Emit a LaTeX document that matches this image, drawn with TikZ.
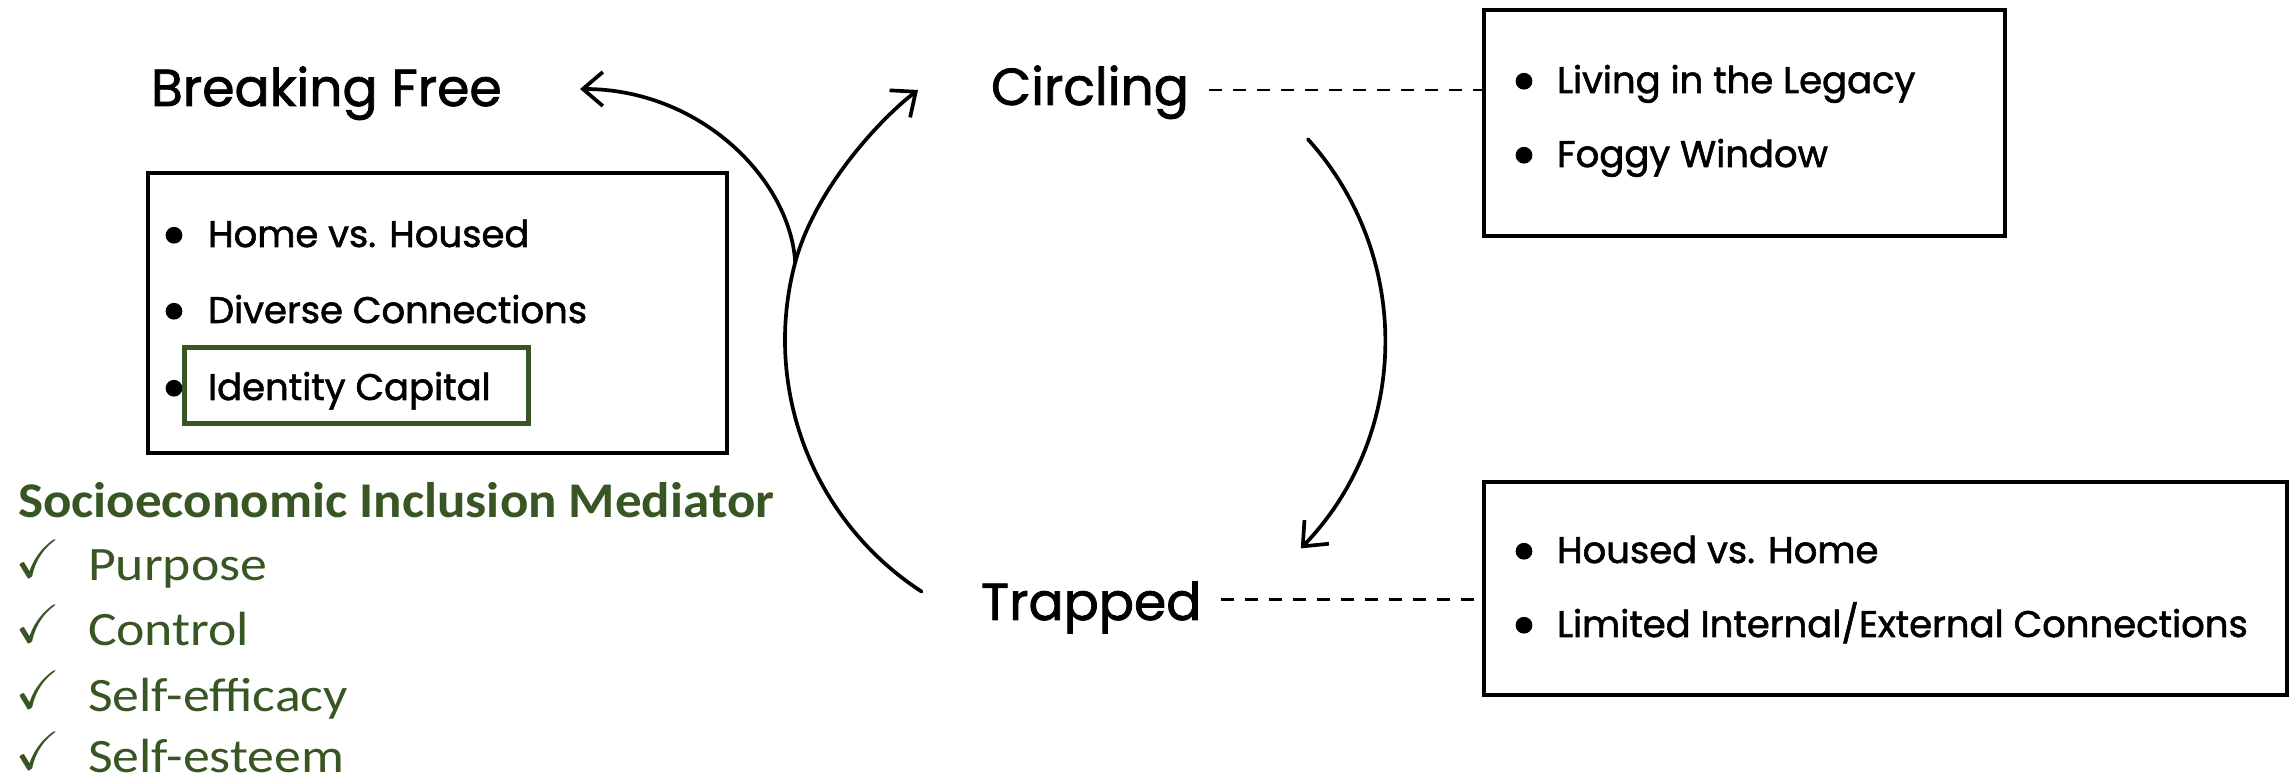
\documentclass[tikz,border=0pt]{standalone}
\usepackage{fontspec}
\usepackage{amssymb}
\usetikzlibrary{arrows.meta,calc}
\newfontfamily\headfont{Poppins}[FakeBold=1.5]
\newfontfamily\caltitle{Carlito}[FakeStretch=1.06]
\newfontfamily\calitem{Carlito}[FakeStretch=1.12]
\definecolor{leafgreen}{RGB}{55,86,35}

\begin{document}
\begin{tikzpicture}[x=1pt,y=1pt,
  every node/.style={inner sep=0pt, outer sep=0pt},
  stage/.style={font=\headfont\fontsize{52}{60}\selectfont, anchor=base west},
  item/.style={font=\headfont\fontsize{37}{44}\selectfont, anchor=base west},
  bul/.style={font=\headfont\fontsize{64}{70}\selectfont, yshift=-7pt},
  panel/.style={draw, line width=3.5pt},
  flow/.style={line width=3.7pt, line cap=round},
  tip/.style={-{Straight Barb[length=20pt,width=34pt]}},
  dashline/.style={line width=2.5pt, dash pattern=on 13pt off 11pt},
  gtitle/.style={font=\caltitle\bfseries\fontsize{50}{60}\selectfont, text=leafgreen, anchor=base west},
  gitem/.style={font=\calitem\fontsize{48}{58}\selectfont, text=leafgreen, anchor=base west},
  check/.style={font=\fontsize{54}{60}\selectfont, text=leafgreen, anchor=base west}
]
\useasboundingbox (0,0) rectangle (2293,779);

% stage labels
\node[stage] (bf) at (151,673) {Breaking Free};
\node[stage] (circ) at (991,674) {Circling};
\node[stage] (trap) at (981,159) {Trapped};

% panel beside Breaking Free
\node[panel, minimum width=579pt, minimum height=280pt] (bfbox) at (437.5,466) {};
\node[bul] (b1) at (174,544) {•};
\node[item] (t1) at (208,532) {Home vs. Housed};
\node[bul] (b2) at (174,468) {•};
\node[item] (t2) at (208,456) {Diverse Connections};
\node[bul] (b3) at (174,391) {•};
\node[item] (t3) at (208,379) {Identity Capital};
\node[draw=leafgreen, line width=5pt, minimum width=344pt, minimum height=76pt] (idbox) at (356,393) {};

% panel for Circling
\node[panel, minimum width=521pt, minimum height=226pt] (cbox) at (1744.5,656) {};
\node[bul] (b4) at (1524,698) {•};
\node[item] (t4) at (1557,686) {Living in the Legacy};
\node[bul] (b5) at (1524,624) {•};
\node[item] (t5) at (1557,612) {Foggy Window};

% panel for Trapped
\node[panel, minimum width=803pt, minimum height=213pt] (tbox) at (1885.5,190.5) {};
\node[bul] (b6) at (1524,228) {•};
\node[item] (t6) at (1557,216) {Housed vs. Home};
\node[bul] (b7) at (1524,154) {•};
\node[item] (t7) at (1557,142) {Limited Internal/External Connections};

% dashed links to the panels
\draw[dashline] ([xshift=20pt,yshift=2pt]circ.east) -- ([yshift=2pt]circ.east -| cbox.west);
\draw[dashline] ([xshift=20pt,yshift=8pt]trap.east) -- ([yshift=8pt]trap.east -| tbox.west);

% cycle arrows
\coordinate (ctr) at (1085,439);
\coordinate (J) at ($(ctr)+(165:300)$);
\coordinate (bftip) at (580,690);
\coordinate (ctip) at (918,689);
\draw[flow, tip] ($(ctr)+(42:300)$) arc[start angle=42, end angle=-44, radius=300];
\draw[flow] ($(ctr)+(237:300)$) arc[start angle=237, end angle=165, radius=300];
\draw[flow, tip] (J) .. controls (790,600) and (700,690) .. (bftip);
\draw[flow, tip] (J) .. controls (815,590) and (880,660) .. (ctip);

% mediator list
\node[gtitle] (med) at (18,261) {Socioeconomic Inclusion Mediator};
\node[check] (k1) at (16,201) {$\checkmark$};
\node[gitem] (m1) at (88,198) {Purpose};
\node[check] (k2) at (16,136) {$\checkmark$};
\node[gitem] (m2) at (88,133) {Control};
\node[check] (k3) at (16,71) {$\checkmark$};
\node[gitem] (m3) at (88,68) {Self-efficacy};
\node[check] (k4) at (16,10) {$\checkmark$};
\node[gitem] (m4) at (88,7) {Self-esteem};
\end{tikzpicture}
\end{document}
